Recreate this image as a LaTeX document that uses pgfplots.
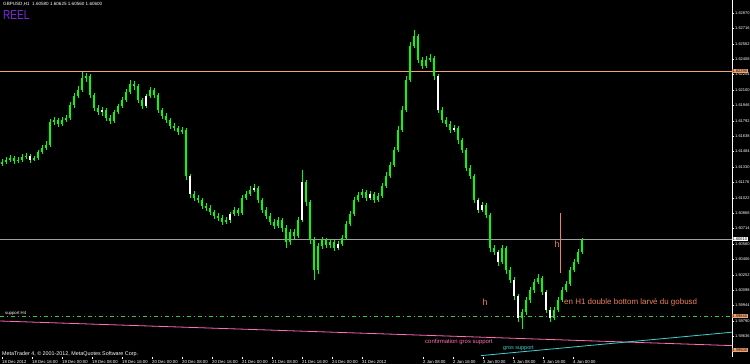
\documentclass[border=0pt]{standalone}
\usepackage{fontspec}
\setmainfont{Liberation Sans}
\usepackage{graphicx}
\usepackage{pgfplots}
\pgfplotsset{compat=1.18}
\usepackage{pgfplotstable}
\definecolor{mtlime}{HTML}{00FF00}
\definecolor{mtpink}{HTML}{FF6EB4}
\definecolor{mtcyan}{HTML}{40D0D0}
\definecolor{mtgreen}{HTML}{32CD32}
\definecolor{mtsalmon}{HTML}{F08060}
\definecolor{mtorange}{HTML}{F4A470}
\definecolor{mtviolet}{HTML}{7A2BE2}
\definecolor{mtgray}{HTML}{A0A0A0}

\pgfplotstableread{
i o h l c w
0 1.6136 1.6141 1.6134 1.6138 0
1 1.6138 1.6143 1.6136 1.6140 0
2 1.6140 1.6145 1.6138 1.6142 0
3 1.6142 1.6144 1.6136 1.6139 0
4 1.6139 1.6143 1.6137 1.6140 0
5 1.6140 1.6146 1.6138 1.6143 0
6 1.6143 1.6147 1.6141 1.6144 0
7 1.6144 1.6146 1.6137 1.6140 1
8 1.6140 1.6144 1.6139 1.6142 0
9 1.6142 1.6150 1.6140 1.6148 0
10 1.6148 1.6155 1.6146 1.6152 0
11 1.6152 1.6159 1.6150 1.6155 0
12 1.6155 1.6181 1.6153 1.6178 0
13 1.6178 1.6183 1.6175 1.6180 0
14 1.6180 1.6182 1.6173 1.6176 0
15 1.6176 1.6183 1.6174 1.6180 0
16 1.6180 1.6185 1.6178 1.6182 0
17 1.6182 1.6198 1.6180 1.6195 0
18 1.6195 1.6207 1.6192 1.6204 0
19 1.6204 1.6214 1.6202 1.6210 0
20 1.6210 1.6228 1.6208 1.6222 0
21 1.6222 1.6227 1.6218 1.6224 0
22 1.6224 1.6226 1.6202 1.6205 0
23 1.6205 1.6207 1.6189 1.6192 0
24 1.6192 1.6195 1.6185 1.6188 0
25 1.6188 1.6193 1.6184 1.6190 1
26 1.6190 1.6192 1.6179 1.6182 0
27 1.6182 1.6185 1.6176 1.6179 0
28 1.6179 1.6190 1.6177 1.6188 0
29 1.6188 1.6196 1.6186 1.6194 0
30 1.6194 1.6203 1.6192 1.6200 0
31 1.6200 1.6211 1.6198 1.6208 0
32 1.6208 1.6220 1.6206 1.6216 0
33 1.6216 1.6219 1.6210 1.6214 0
34 1.6214 1.6216 1.6197 1.6200 0
35 1.6200 1.6202 1.6191 1.6194 0
36 1.6194 1.6206 1.6192 1.6204 1
37 1.6204 1.6213 1.6202 1.6210 0
38 1.6210 1.6212 1.6202 1.6205 0
39 1.6205 1.6207 1.6187 1.6190 0
40 1.6190 1.6192 1.6181 1.6184 0
41 1.6184 1.6187 1.6177 1.6180 0
42 1.6180 1.6182 1.6171 1.6174 0
43 1.6174 1.6177 1.6169 1.6172 0
44 1.6172 1.6174 1.6165 1.6168 0
45 1.6168 1.6173 1.6166 1.6170 0
46 1.6170 1.6172 1.6120 1.6124 0
47 1.6124 1.6126 1.6102 1.6106 1
48 1.6106 1.6109 1.6099 1.6102 0
49 1.6102 1.6105 1.6097 1.6100 0
50 1.6100 1.6102 1.6091 1.6094 0
51 1.6094 1.6097 1.6089 1.6092 0
52 1.6092 1.6095 1.6085 1.6088 0
53 1.6088 1.6090 1.6081 1.6084 0
54 1.6084 1.6087 1.6079 1.6082 0
55 1.6082 1.6085 1.6075 1.6078 0
56 1.6078 1.6083 1.6076 1.6080 0
57 1.6080 1.6088 1.6077 1.6086 1
58 1.6086 1.6093 1.6084 1.6090 0
59 1.6090 1.6092 1.6084 1.6087 0
60 1.6087 1.6105 1.6085 1.6102 0
61 1.6102 1.6109 1.6100 1.6106 0
62 1.6106 1.6114 1.6104 1.6110 0
63 1.6110 1.6116 1.6108 1.6112 1
64 1.6112 1.6114 1.6097 1.6100 0
65 1.6100 1.6102 1.6087 1.6090 0
66 1.6090 1.6093 1.6081 1.6084 0
67 1.6084 1.6087 1.6075 1.6078 0
68 1.6078 1.6081 1.6071 1.6074 0
69 1.6074 1.6083 1.6072 1.6080 0
70 1.6080 1.6082 1.6068 1.6072 0
71 1.6072 1.6075 1.6052 1.6058 0
72 1.6058 1.6071 1.6055 1.6068 0
73 1.6068 1.6071 1.6061 1.6064 0
74 1.6064 1.6083 1.6062 1.6080 0
75 1.6080 1.6130 1.6078 1.6118 1
76 1.6118 1.6120 1.6094 1.6098 0
77 1.6098 1.6100 1.6056 1.6060 0
78 1.6060 1.6063 1.6020 1.6030 0
79 1.6030 1.6057 1.6026 1.6054 0
80 1.6054 1.6063 1.6051 1.6060 0
81 1.6060 1.6062 1.6052 1.6055 0
82 1.6055 1.6061 1.6052 1.6058 0
83 1.6058 1.6060 1.6049 1.6052 0
84 1.6052 1.6059 1.6050 1.6056 1
85 1.6056 1.6065 1.6054 1.6062 0
86 1.6062 1.6079 1.6060 1.6076 0
87 1.6076 1.6089 1.6074 1.6086 0
88 1.6086 1.6103 1.6084 1.6100 0
89 1.6100 1.6108 1.6098 1.6105 0
90 1.6105 1.6111 1.6102 1.6108 0
91 1.6108 1.6110 1.6099 1.6102 0
92 1.6102 1.6109 1.6100 1.6106 1
93 1.6106 1.6108 1.6097 1.6100 0
94 1.6100 1.6107 1.6098 1.6104 0
95 1.6104 1.6117 1.6102 1.6114 0
96 1.6114 1.6128 1.6112 1.6124 0
97 1.6124 1.6138 1.6122 1.6135 0
98 1.6135 1.6153 1.6133 1.6150 0
99 1.6150 1.6174 1.6148 1.6170 0
100 1.6170 1.6194 1.6168 1.6190 0
101 1.6190 1.6224 1.6188 1.6220 0
102 1.6220 1.6258 1.6218 1.6254 0
103 1.6254 1.6270 1.6252 1.6264 0
104 1.6264 1.6266 1.6237 1.6240 0
105 1.6240 1.6243 1.6231 1.6234 0
106 1.6234 1.6244 1.6232 1.6240 0
107 1.6240 1.6246 1.6238 1.6242 0
108 1.6242 1.6244 1.6220 1.6224 0
109 1.6224 1.6226 1.6187 1.6190 1
110 1.6190 1.6193 1.6177 1.6180 0
111 1.6180 1.6183 1.6173 1.6176 0
112 1.6176 1.6179 1.6167 1.6170 0
113 1.6170 1.6175 1.6168 1.6172 1
114 1.6172 1.6174 1.6156 1.6160 0
115 1.6160 1.6162 1.6147 1.6150 0
116 1.6150 1.6152 1.6129 1.6132 0
117 1.6132 1.6135 1.6121 1.6124 0
118 1.6124 1.6126 1.6097 1.6100 0
119 1.6100 1.6102 1.6087 1.6090 1
120 1.6090 1.6098 1.6088 1.6095 1
121 1.6095 1.6097 1.6082 1.6085 0
122 1.6085 1.6087 1.6048 1.6052 0
123 1.6052 1.6055 1.6045 1.6048 0
124 1.6048 1.6050 1.6034 1.6038 1
125 1.6038 1.6055 1.6036 1.6052 0
126 1.6052 1.6054 1.6026 1.6030 0
127 1.6030 1.6033 1.6017 1.6020 0
128 1.6020 1.6023 1.6000 1.6004 1
129 1.6004 1.6006 1.5978 1.5982 1
130 1.5982 1.5991 1.5971 1.5988 0
131 1.5988 1.6003 1.5985 1.6000 0
132 1.6000 1.6013 1.5997 1.6010 0
133 1.6010 1.6021 1.6007 1.6018 0
134 1.6018 1.6026 1.6016 1.6022 0
135 1.6022 1.6024 1.6005 1.6008 0
136 1.6008 1.6010 1.5987 1.5990 1
137 1.5990 1.5993 1.5978 1.5982 1
138 1.5982 1.5993 1.5980 1.5990 0
139 1.5990 1.6003 1.5988 1.6000 0
140 1.6000 1.6013 1.5998 1.6010 0
141 1.6010 1.6019 1.6008 1.6016 0
142 1.6016 1.6033 1.6014 1.6030 0
143 1.6030 1.6041 1.6028 1.6038 0
144 1.6038 1.6051 1.6036 1.6048 0
145 1.6048 1.6062 1.6046 1.6060 0
}\candles

\begin{document}
\begin{tikzpicture}
\fill[black] (0,0) rectangle (750bp,364bp);
\begin{axis}[
  at={(0,7bp)}, anchor=south west,
  scale only axis, width=732bp, height=357bp,
  xmin=-0.5, xmax=182.5, ymin=1.5943, ymax=1.6300,
  axis y line*=right, axis x line*=bottom,
  y axis line style={white, line width=0.8bp},
  x axis line style={draw=none},
  clip=false,
  tick style={white, line width=0.5bp},
  major tick length=2bp,
  tick align=outside,
  scaled y ticks=false,
  ytick={1.62870,1.62716,1.62562,1.62408,1.62254,1.62100,1.61946,1.61792,1.61638,1.61484,1.61330,1.61176,1.61022,1.60868,1.60714,1.60560,1.60406,1.60252,1.60098,1.59944,1.59790,1.59636},
  yticklabel style={/pgf/number format/.cd, fixed, fixed zerofill, precision=5, assume math mode=true, /tikz/.cd,
    font=\fontsize{4}{5}\selectfont, text=white, inner sep=0pt, xshift=1bp},
  xtick={0,7.5,15,22.5,30,37.5,45,52.5,60,67.5,75,82.5,90,105.25,112.75,120.25,127.75,135.25,142.75},
  xticklabels={18 Dec 2012,18 Dec 16:00,19 Dec 00:00,19 Dec 08:00,19 Dec 16:00,20 Dec 00:00,20 Dec 08:00,20 Dec 16:00,21 Dec 00:00,21 Dec 08:00,21 Dec 16:00,24 Dec 00:00,31 Dec 2012,2 Jan 08:00,2 Jan 16:00,3 Jan 00:00,3 Jan 08:00,3 Jan 16:00,4 Jan 00:00},
  xticklabel style={font=\fontsize{4.3}{5}\selectfont, text=white, anchor=north west, inner sep=0pt, yshift=-1bp},
]
% horizontal lines
\addplot[mtorange, line width=0.7bp] coordinates {(-0.5,1.6229) (182.5,1.6229)};
\addplot[mtgray, line width=0.7bp] coordinates {(-0.5,1.6061) (182.5,1.6061)};
\addplot[mtgreen, line width=0.9bp, dash pattern=on 4bp off 3bp on 1bp off 3bp] coordinates {(-0.5,1.5984) (182.5,1.5984)};
\addplot[mtpink, line width=0.8bp] coordinates {(-0.5,1.5979) (182.5,1.59544)};
\addplot[mtcyan, line width=0.8bp] coordinates {(119.75,1.59444) (182.5,1.59678)};
% wicks
\addplot[draw=none, mark=none, forget plot,
  error bars/.cd, y dir=minus, y explicit, error mark=none,
  error bar style={draw=mtlime, line width=0.8bp}]
  table[x=i, y=h, y error minus expr={\thisrow{h}-\thisrow{l}}] {\candles};
% bodies
\addplot[draw=none, mark=none, forget plot,
  error bars/.cd, y dir=minus, y explicit, error mark=none,
  error bar style={draw=mtlime, line width=2.6bp}]
  table[x=i, y expr={max(\thisrow{o},\thisrow{c})}, y error minus expr={abs(\thisrow{o}-\thisrow{c})}] {\candles};
\addplot[draw=none, mark=none, forget plot,
  restrict expr to domain={\thisrow{w}}{0.5:1.5},
  error bars/.cd, y dir=minus, y explicit, error mark=none,
  error bar style={draw=white, line width=1.2bp}]
  table[x=i, y expr={max(\thisrow{o},\thisrow{c})}, y error minus expr={abs(\thisrow{o}-\thisrow{c})}] {\candles};
% vertical marker
\addplot[mtsalmon, line width=0.8bp] coordinates {(139.5,1.6087) (139.5,1.6027)};
% texts
\node[anchor=west, inner sep=0pt, text=white, font=\fontsize{4.6}{5}\selectfont] at (axis cs:0.25,1.6296) {GBPUSD,H1\ \ 1.60580 1.60625 1.60560 1.60600};
\node[anchor=west, inner sep=0pt, text=mtviolet, font=\fontsize{13}{14}\selectfont] at (axis cs:0.25,1.62845) {\scalebox{0.78}[1]{REEL}};
\node[anchor=west, inner sep=0pt, text=white, font=\fontsize{5.4}{6}\selectfont] at (axis cs:0,1.5946) {MetaTrader 4, \copyright\ 2001-2012, MetaQuotes Software Corp.};
\node[anchor=west, inner sep=0pt, text=white, font=\fontsize{4.3}{5}\selectfont] at (axis cs:0.75,1.5987) {support H4};
\node[inner sep=0pt, text=mtsalmon, font=\fontsize{9}{10}\selectfont] at (axis cs:120.75,1.5998) {h};
\node[inner sep=0pt, text=mtsalmon, font=\fontsize{9}{10}\selectfont] at (axis cs:138.75,1.6056) {h};
\node[anchor=west, inner sep=0pt, text=mtsalmon, font=\fontsize{8}{9}\selectfont] at (axis cs:140.5,1.5998) {en H1 double bottom larvé du gobusd};
\node[anchor=west, inner sep=0pt, text=mtpink, font=\fontsize{6}{7}\selectfont] at (axis cs:105.75,1.5958) {confirmation gros support};
\node[anchor=west, inner sep=0pt, text=mtcyan, font=\fontsize{5.5}{6}\selectfont] at (axis cs:125.25,1.5952) {gros support};
% price boxes on right axis
\node[anchor=west, fill=mtorange, text=black, inner sep=0.5bp, font=\fontsize{4}{5}\selectfont] at (axis cs:182.5,1.6229) {1.62290};
\node[anchor=west, fill=white, text=black, inner sep=0.5bp, font=\fontsize{4}{5}\selectfont] at (axis cs:182.5,1.6061) {1.60610};
\node[anchor=west, fill=mtorange, text=black, inner sep=0.5bp, font=\fontsize{4}{5}\selectfont] at (axis cs:182.5,1.5984) {1.59840};
\node[anchor=west, fill=mtorange, text=black, inner sep=0.5bp, font=\fontsize{4}{5}\selectfont] at (axis cs:182.5,1.5950) {1.59500};
\end{axis}
\pgfresetboundingbox
\useasboundingbox (0,0) rectangle (750bp,364bp);
\end{tikzpicture}
\end{document}
